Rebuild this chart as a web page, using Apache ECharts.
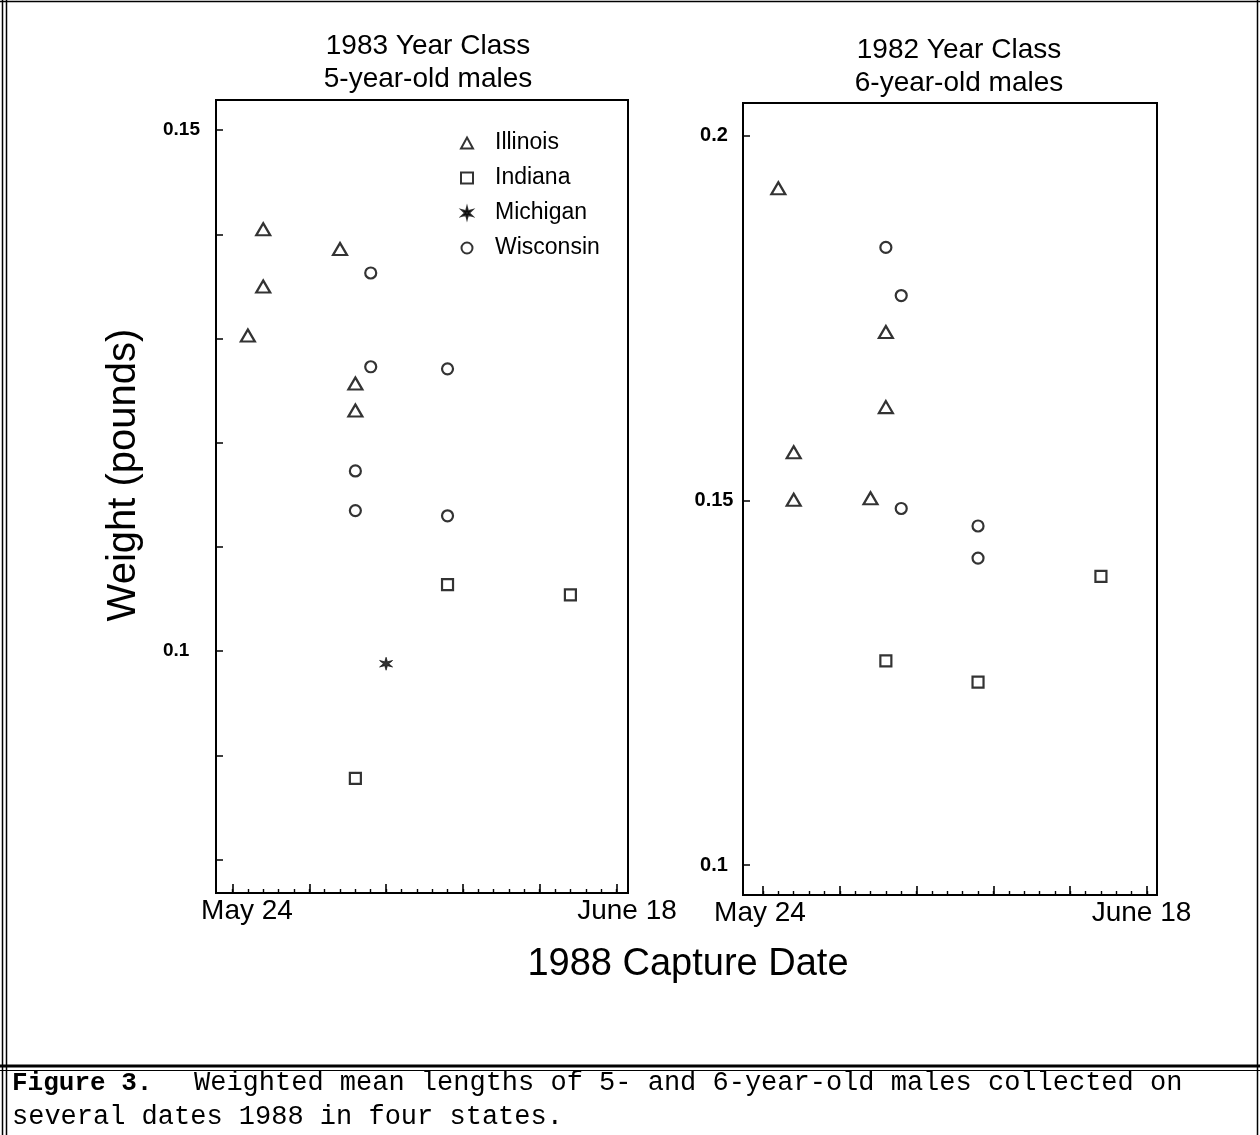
<!DOCTYPE html>
<html><head><meta charset="utf-8">
<script src="https://cdn.jsdelivr.net/npm/echarts@6/dist/echarts.min.js"></script>
<style>html,body{margin:0;padding:0;background:#fff}#c{width:1260px;height:1135px}</style>
</head><body><div id="c"></div>
<script>
// ---------- data ----------
const xTickDays = [0,1,2,3,4,5,6,7,8,9,10,11,12,13,14,15,16,17,18,19,20,21,22,23,24,25];
const xMajorDays = [0,5,10,15,20,25];
const xLabelDays = [0,25];
const xLabelText = ['May 24','June 18'];
const yTicks83 = [0.08,0.09,0.10,0.11,0.12,0.13,0.14,0.15];
const yLabels83 = [0.1,0.15];
const yTicks82 = [0.1,0.15,0.2];
const yLabels82 = [0.1,0.15,0.2];
const stateNames = ['Illinois','Indiana','Michigan','Wisconsin'];
// [day after May 24, weight in pounds]
const illinois83 = [[1,0.1303],[2,0.1350],[2,0.1405],[7,0.1386],[8,0.1257],[8,0.1231]];
const indiana83 = [[8,0.0878],[14,0.1064],[22,0.1054]];
const michigan83 = [[10,0.0988]];
const wisconsin83 = [[8,0.1173],[8,0.1135],[9,0.1363],[9,0.1273],[14,0.1271],[14,0.1130]];
const illinois82 = [[1,0.1928],[2,0.1566],[2,0.1501],[7,0.1503],[8,0.1731],[8,0.1628]];
const indiana82 = [[8,0.1280],[14,0.1251],[22,0.1396]];
const wisconsin82 = [[8,0.1847],[9,0.1781],[9,0.1489],[14,0.1465],[14,0.1421]];

// ---------- styles ----------
const FONT = 'Liberation Sans, Arial, Helvetica, sans-serif';
const STAR = 'path://M10 0 L11.75 6.97 L18.66 5 L13.5 10 L18.66 15 L11.75 13.03 L10 20 L8.25 13.03 L1.34 15 L6.5 10 L1.34 5 L8.25 6.97 Z';
const symbolOf = {
  Illinois: {symbol:'triangle', symbolSize:[14,12], itemStyle:{color:'#fff', borderColor:'#000', borderWidth:2.2}},
  Indiana: {symbol:'rect', symbolSize:[11,11], itemStyle:{color:'#fff', borderColor:'#000', borderWidth:2.2}},
  Michigan: {symbol:STAR, symbolSize:[13,13], itemStyle:{color:'#000', borderColor:'#000', borderWidth:0.8}},
  Wisconsin: {symbol:'circle', symbolSize:[11,11], itemStyle:{color:'#fff', borderColor:'#000', borderWidth:2.2}}
};

function xAxes(gridIndex, min, max, padA, padB) {
  const base = {
    type:'value', gridIndex, min, max, position:'bottom',
    splitLine:{show:false},
    axisLine:{show:true, onZero:false, lineStyle:{color:'#000', width:2}}
  };
  return [
    Object.assign({}, base, {
      axisTick:{show:true, inside:true, length:4, customValues:xTickDays, lineStyle:{color:'#000', width:1.4}},
      axisLabel:{show:true, customValues:xLabelDays, margin:4, color:'#000', fontFamily:FONT, fontSize:28,
        formatter: v => (Math.abs(v) < 0.5 ? '{a|' + xLabelText[0] + '}' : '{b|' + xLabelText[1] + '}'),
        rich:{a:{fontFamily:FONT, fontSize:28, color:'#000', padding:padA}, b:{fontFamily:FONT, fontSize:28, color:'#000', padding:padB}}}
    }),
    Object.assign({}, base, {
      axisLine:{show:false, onZero:false},
      axisTick:{show:true, inside:true, length:9, customValues:xMajorDays, lineStyle:{color:'#000', width:1.6}},
      axisLabel:{show:false}
    })
  ];
}

function scatter(name, data, xi, yi) {
  const s = symbolOf[name];
  return {type:'scatter', name, data, xAxisIndex:xi, yAxisIndex:yi,
    symbol:s.symbol, symbolSize:s.symbolSize, itemStyle:s.itemStyle, silent:true, animation:false};
}

const chart = echarts.init(document.getElementById('c'), null, {renderer:'canvas'});
chart.setOption({
  backgroundColor:'#fff',
  animation:false,
  title:[
    {text:'1983 Year Class\n5-year-old males', left:428, top:30, textAlign:'center', padding:0,
     textStyle:{fontFamily:FONT, fontSize:28, fontWeight:'normal', color:'#000', lineHeight:33}},
    {text:'1982 Year Class\n6-year-old males', left:959, top:34, textAlign:'center', padding:0,
     textStyle:{fontFamily:FONT, fontSize:28, fontWeight:'normal', color:'#000', lineHeight:33}}
  ],
  legend:{
    data:stateNames, orient:'vertical', left:460, top:131, itemGap:11, itemWidth:12, itemHeight:11,
    padding:0, selectedMode:false,
    itemStyle:{borderWidth:2},
    textStyle:{fontFamily:FONT, fontSize:23, color:'#000', lineHeight:24, padding:[0,0,0,17]}
  },
  grid:[
    {left:216, top:100, width:412, height:793, show:true, borderColor:'#000', borderWidth:2, backgroundColor:'transparent'},
    {left:743, top:103, width:414, height:792, show:true, borderColor:'#000', borderWidth:2, backgroundColor:'transparent'}
  ],
  xAxis: [].concat(xAxes(0, -1.074, 25.75, [0,0,0,29], [0,0,0,21]), xAxes(1, -1.3, 25.65, [0,6,0,0], [0,11,0,0])),
  yAxis:[
    {type:'value', gridIndex:0, min:0.0768, max:0.1529, splitLine:{show:false},
     axisLine:{show:true, onZero:false, lineStyle:{color:'#000', width:2}},
     axisTick:{show:true, inside:true, length:7, customValues:yTicks83, lineStyle:{color:'#000', width:1.5}},
     axisLabel:{customValues:yLabels83, align:'left', margin:53, color:'#000', fontFamily:FONT, fontSize:19, fontWeight:'bold',
       formatter: v => String(+v.toFixed(2))}},
    {type:'value', gridIndex:1, min:0.0959, max:0.2045, splitLine:{show:false},
     axisLine:{show:true, onZero:false, lineStyle:{color:'#000', width:2}},
     axisTick:{show:true, inside:true, length:7, customValues:yTicks82, lineStyle:{color:'#000', width:1.5}},
     axisLabel:{customValues:yLabels82, align:'center', margin:29, color:'#000', fontFamily:FONT, fontSize:20, fontWeight:'bold',
       formatter: v => String(+v.toFixed(2))}}
  ],
  series:[
    scatter('Illinois', illinois83, 0, 0),
    scatter('Indiana', indiana83, 0, 0),
    scatter('Michigan', michigan83, 0, 0),
    scatter('Wisconsin', wisconsin83, 0, 0),
    scatter('Illinois', illinois82, 2, 1),
    scatter('Indiana', indiana82, 2, 1),
    scatter('Wisconsin', wisconsin82, 2, 1)
  ],
  graphic:[
    {type:'text', x:124, y:475, rotation:Math.PI/2, silent:true,
     style:{text:'Weight (pounds)', fill:'#000', font:'40px ' + FONT, textAlign:'center', textVerticalAlign:'middle'}},
    {type:'text', x:688, y:965, silent:true,
     style:{text:'1988 Capture Date', fill:'#000', font:'38px ' + FONT, textAlign:'center', textVerticalAlign:'middle'}},
    // frame
    {type:'line', silent:true, shape:{x1:2.5, y1:0, x2:2.5, y2:1135}, style:{stroke:'#000', lineWidth:1.5}},
    {type:'line', silent:true, shape:{x1:6.5, y1:0, x2:6.5, y2:1135}, style:{stroke:'#000', lineWidth:1.5}},
    {type:'line', silent:true, shape:{x1:0, y1:1.5, x2:1260, y2:1.5}, style:{stroke:'#000', lineWidth:1.5}},
    {type:'line', silent:true, shape:{x1:1257.5, y1:0, x2:1257.5, y2:1135}, style:{stroke:'#000', lineWidth:1.5}},
    {type:'line', silent:true, shape:{x1:0, y1:1066, x2:1260, y2:1066}, style:{stroke:'#000', lineWidth:3}},
    {type:'line', silent:true, shape:{x1:0, y1:1070.5, x2:1260, y2:1070.5}, style:{stroke:'#000', lineWidth:1}},
    // caption
    {type:'text', x:12, y:1083, silent:true,
     style:{text:'Figure 3.', fill:'#000', font:'bold 26px Liberation Mono, monospace', textVerticalAlign:'middle'}},
    {type:'text', x:194, y:1083, silent:true,
     style:{text:'Weighted mean lengths of 5- and 6-year-old males collected on', fill:'#000', font:'27px Liberation Mono, monospace', textVerticalAlign:'middle'}},
    {type:'text', x:12, y:1117, silent:true,
     style:{text:'several dates 1988 in four states.', fill:'#000', font:'27px Liberation Mono, monospace', textVerticalAlign:'middle'}}
  ]
});
</script>
</body></html>
